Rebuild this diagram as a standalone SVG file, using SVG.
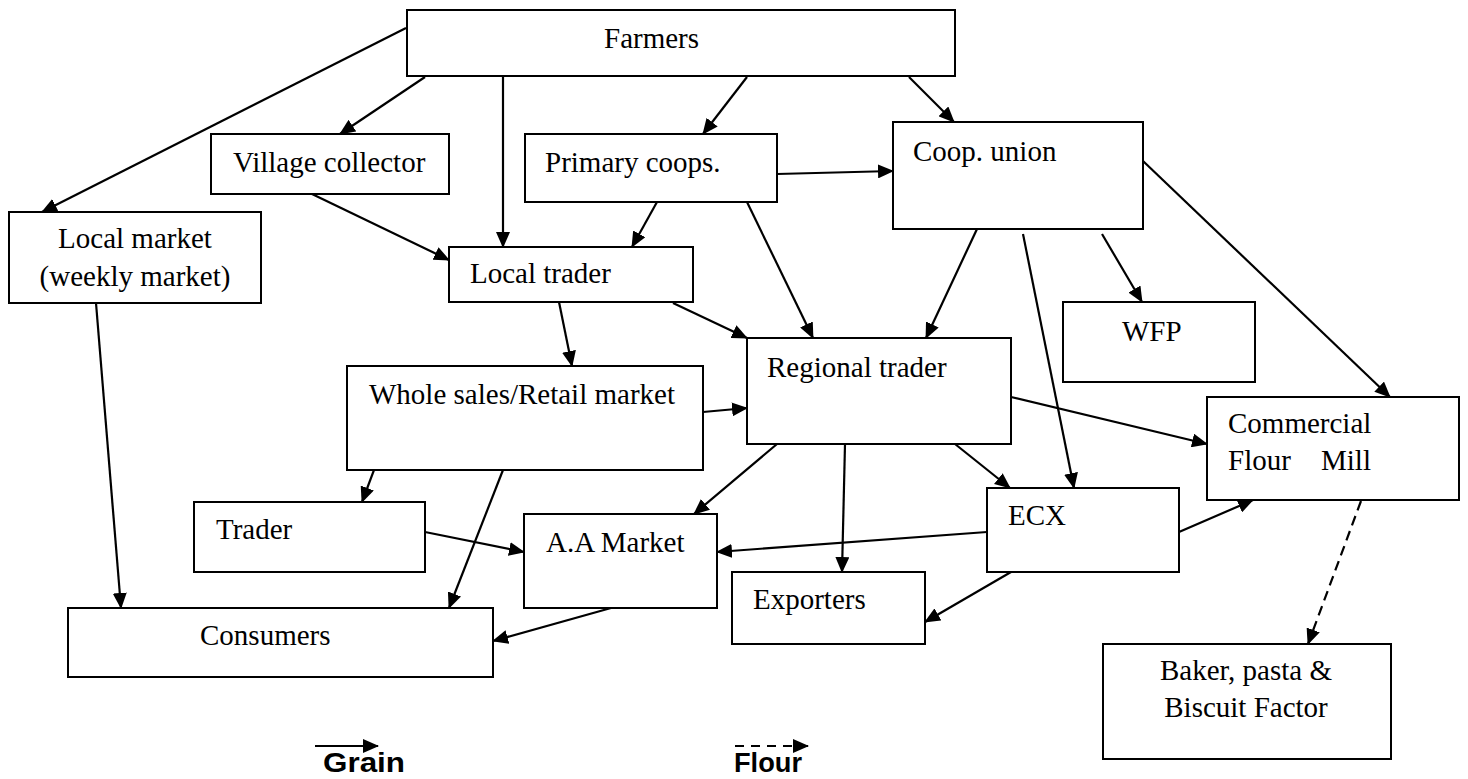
<svg xmlns="http://www.w3.org/2000/svg" width="1468" height="779" viewBox="0 0 1468 779">
<defs>
<marker id="ah" viewBox="0 0 16 14" refX="15" refY="7" markerWidth="16" markerHeight="14" markerUnits="userSpaceOnUse" orient="auto">
<path d="M0,0 L16,7 L0,14 z" fill="#000"/>
</marker>
<style>
.box{fill:#fff;stroke:#000;stroke-width:2}
.t{font-family:"Liberation Serif","Times New Roman",serif;font-size:29px;fill:#000}
.c{text-anchor:middle}
.e{fill:none;stroke:#000;stroke-width:2.2;marker-end:url(#ah)}
.d{stroke-dasharray:10,6}
.lg{font-family:"Liberation Sans",Arial,sans-serif;font-weight:bold;font-size:28px;fill:#000}
</style>
</defs>
<rect width="1468" height="779" fill="#fff"/>
<g id="connectors">
<path class="e" d="M406,28 L42,212"/>
<path class="e" d="M425,77 L340,134"/>
<path class="e" d="M503,76 L503,247"/>
<path class="e" d="M747,77 L703,134"/>
<path class="e" d="M909,77 L954,122"/>
<path class="e" d="M312,194 L449,260"/>
<path class="e" d="M777,174 L893,171"/>
<path class="e" d="M657,202 L632,247"/>
<path class="e" d="M747,202 L813,338"/>
<path class="e" d="M977,229 L926,338"/>
<path class="e" d="M1023,234 L1074,488"/>
<path class="e" d="M1102,234 L1142,302"/>
<path class="e" d="M1143,161 L1390,397"/>
<path class="e" d="M96,303 L121,608"/>
<path class="e" d="M559,302 L572,366"/>
<path class="e" d="M673,303 L747,338"/>
<path class="e" d="M703,412 L747,408"/>
<path class="e" d="M374,470 L362,502"/>
<path class="e" d="M503,470 L449,608"/>
<path class="e" d="M777,444 L694,514"/>
<path class="e" d="M845,444 L842,572"/>
<path class="e" d="M955,444 L1010,488"/>
<path class="e" d="M1011,397 L1207,444"/>
<path class="e" d="M425,532 L524,552"/>
<path class="e" d="M987,532 L717,552"/>
<path class="e" d="M1011,572 L925,622"/>
<path class="e" d="M1179,532 L1253,500"/>
<path class="e" d="M611,608 L493,641"/>
<path class="e d" d="M1361,501 L1308,644"/>
</g>
<g id="farmers"><rect class="box" x="407" y="10" width="548" height="66"/><text class="t" x="604" y="48">Farmers</text></g>
<g id="village-collector"><rect class="box" x="211" y="134" width="238" height="60"/><text class="t" x="233" y="172">Village collector</text></g>
<g id="primary-coops"><rect class="box" x="525" y="134" width="252" height="68"/><text class="t" x="545" y="172">Primary coops.</text></g>
<g id="coop-union"><rect class="box" x="893" y="122" width="250" height="107"/><text class="t" x="913" y="161">Coop. union</text></g>
<g id="local-market"><rect class="box" x="9" y="212" width="252" height="91"/><text class="t c" x="135" y="248">Local market</text><text class="t c" x="135" y="286">(weekly market)</text></g>
<g id="local-trader"><rect class="box" x="449" y="247" width="244" height="55"/><text class="t" x="470" y="283">Local trader</text></g>
<g id="wfp"><rect class="box" x="1063" y="302" width="192" height="80"/><text class="t" x="1122" y="341">WFP</text></g>
<g id="regional-trader"><rect class="box" x="747" y="338" width="264" height="106"/><text class="t" x="767" y="377">Regional trader</text></g>
<g id="whole-sales"><rect class="box" x="347" y="366" width="356" height="104"/><text class="t" x="369" y="404">Whole sales/Retail market</text></g>
<g id="commercial-flour-mill"><rect class="box" x="1207" y="397" width="252" height="103"/><text class="t" x="1228" y="433">Commercial</text><text class="t" y="470"><tspan x="1228">Flour</tspan><tspan x="1321">Mill</tspan></text></g>
<g id="ecx"><rect class="box" x="987" y="488" width="192" height="84"/><text class="t" x="1008" y="525">ECX</text></g>
<g id="trader"><rect class="box" x="194" y="502" width="231" height="70"/><text class="t" x="216" y="539">Trader</text></g>
<g id="aa-market"><rect class="box" x="524" y="514" width="193" height="94"/><text class="t" x="546" y="552">A.A Market</text></g>
<g id="exporters"><rect class="box" x="732" y="572" width="193" height="72"/><text class="t" x="753" y="609">Exporters</text></g>
<g id="consumers"><rect class="box" x="68" y="608" width="425" height="69"/><text class="t" x="200" y="645">Consumers</text></g>
<g id="baker"><rect class="box" x="1103" y="644" width="288" height="115"/><text class="t c" x="1246" y="680">Baker, pasta &amp;</text><text class="t c" x="1246" y="717">Biscuit Factor</text></g>
<g id="legend">
<path class="e" d="M315,746 L378,746"/>
<text class="lg" x="323" y="772" textLength="82" lengthAdjust="spacingAndGlyphs">Grain</text>
<path class="e" d="M735,746 L808,746" stroke-dasharray="9,7"/>
<text class="lg" x="734" y="772" textLength="68" lengthAdjust="spacingAndGlyphs">Flour</text>
</g>
</svg>
